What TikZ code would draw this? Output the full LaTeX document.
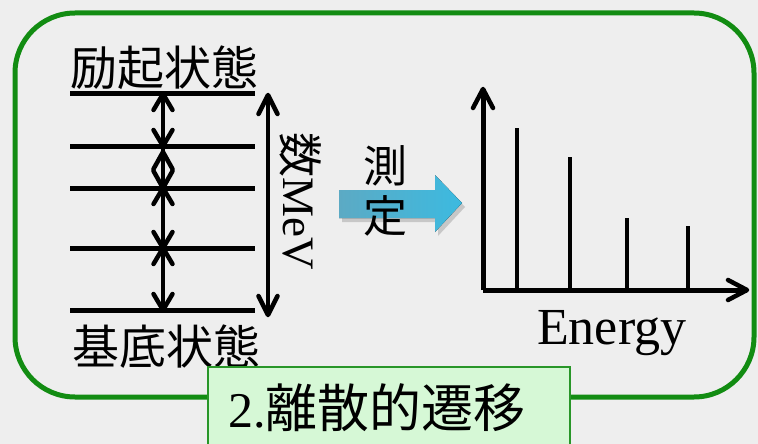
\documentclass[tikz,border=0pt]{standalone}
\usepackage{fontspec}
\setmainfont{Liberation Serif}
\newfontfamily\cjk{Noto Sans CJK JP}
\usetikzlibrary{shadows}
\definecolor{bgc}{RGB}{238,238,238}
\definecolor{frameg}{RGB}{18,140,18}
\definecolor{boxfill}{RGB}{214,248,214}
\definecolor{boxline}{RGB}{40,150,40}
\definecolor{arrL}{RGB}{92,170,196}
\definecolor{arrR}{RGB}{60,186,224}
% chevron tip: point, offset of one barb end, offset of other barb end
\newcommand\chevtip[3]{\draw[tipline] (#1) ++(#2) -- (#1) -- ++(#3);}
\begin{document}
\begin{tikzpicture}[x=1pt,y=-1pt,
  lvl/.style={line width=5pt},
  shaft/.style={line width=4.5pt},
  tipline/.style={line width=4.5pt,line cap=round,line join=round},
  peak/.style={line width=4.5pt},
  txt/.style={inner sep=0pt,anchor=base west,text=black}]
\useasboundingbox (0,0) rectangle (758,444);
\clip (0,0) rectangle (758,444);
\fill[bgc] (0,0) rectangle (758,444);
% frame
\draw[frameg,line width=5pt,rounded corners=60pt] (15,13) rectangle (754,397);
% level scheme
\foreach \n/\y in {1/94,2/146,3/188,4/248,5/310}{
  \coordinate (A\n) at (70,\y);
  \coordinate (B\n) at (255,\y);
  \coordinate (L\n) at (163,\y);
  \draw[lvl] (A\n) -- (B\n);
}
\coordinate (L2b) at (163,152);
% gaps: shafts
\draw[shaft] (L1) -- (L2);
\draw[shaft] (L2) -- (L3);
\draw[shaft] (L3) -- (L4);
\draw[shaft] (L4) -- (L5);
% gaps: tips
\chevtip{L1}{-9.5,16}{9.5,16}
\chevtip{L2}{-9.5,-16}{9.5,-16}
\chevtip{L2b}{-9.5,17}{9.5,17}
\chevtip{L3}{-9.5,-17}{9.5,-17}
\chevtip{L3}{-9.5,16}{9.5,16}
\chevtip{L4}{-9.5,-16}{9.5,-16}
\chevtip{L4}{-9.5,16}{9.5,16}
\chevtip{L5}{-9.5,-16}{9.5,-16}
% total energy arrow
\coordinate (Etop) at (268,95);
\coordinate (Ebot) at (268,315);
\draw[shaft] (Etop) -- (Ebot);
\chevtip{Etop}{-9.5,19}{9.5,19}
\chevtip{Ebot}{-9.5,-19}{9.5,-19}
\node[txt] (exc) at (70,85) {\fontsize{47}{50}\selectfont\cjk 励起状態};
\node[txt] (gnd) at (72,364) {\fontsize{47}{50}\selectfont\cjk 基底状態};
\node[txt,rotate=-90] (mev) at (283,132) {{\fontsize{45}{50}\selectfont\cjk 数}\fontsize{45}{50}\selectfont MeV};
% measurement arrow
\fill[left color=arrL,right color=arrR,drop shadow={opacity=0.35,shadow xshift=3pt,shadow yshift=-4pt}]
  (339,190) -- (435,190) -- (435,175) -- (462,203) -- (435,232) -- (435,218) -- (339,218) -- cycle;
\node[txt] (m1) at (363,182) {\fontsize{44}{48}\selectfont\cjk 測};
\node[txt] (m2) at (363,232) {\fontsize{44}{48}\selectfont\cjk 定};
% spectrum
\coordinate (O) at (483,290);
\coordinate (Ytop) at (483,89);
\coordinate (Xend) at (747,290);
\draw[peak] (517,290) -- (517,128);
\draw[peak] (570,290) -- (570,157);
\draw[peak] (627,290) -- (627,218);
\draw[peak] (688,290) -- (688,226);
\draw[line width=5pt] (O) -- (Ytop);
\draw[line width=5pt] (O) -- (Xend);
\chevtip{Ytop}{-10,19}{10,19}
\chevtip{Xend}{-19,-10}{-19,10}
\node[txt] (en) at (537,344) {\fontsize{52}{56}\selectfont Energy};
% label box
\draw[boxline,fill=boxfill,line width=2pt] (208,367) rectangle (570,460);
\node[txt] (lab) at (228,427) {\fontsize{50}{56}\selectfont 2.{\fontsize{52}{56}\selectfont\cjk 離散的遷移}};
\end{tikzpicture}
\end{document}
